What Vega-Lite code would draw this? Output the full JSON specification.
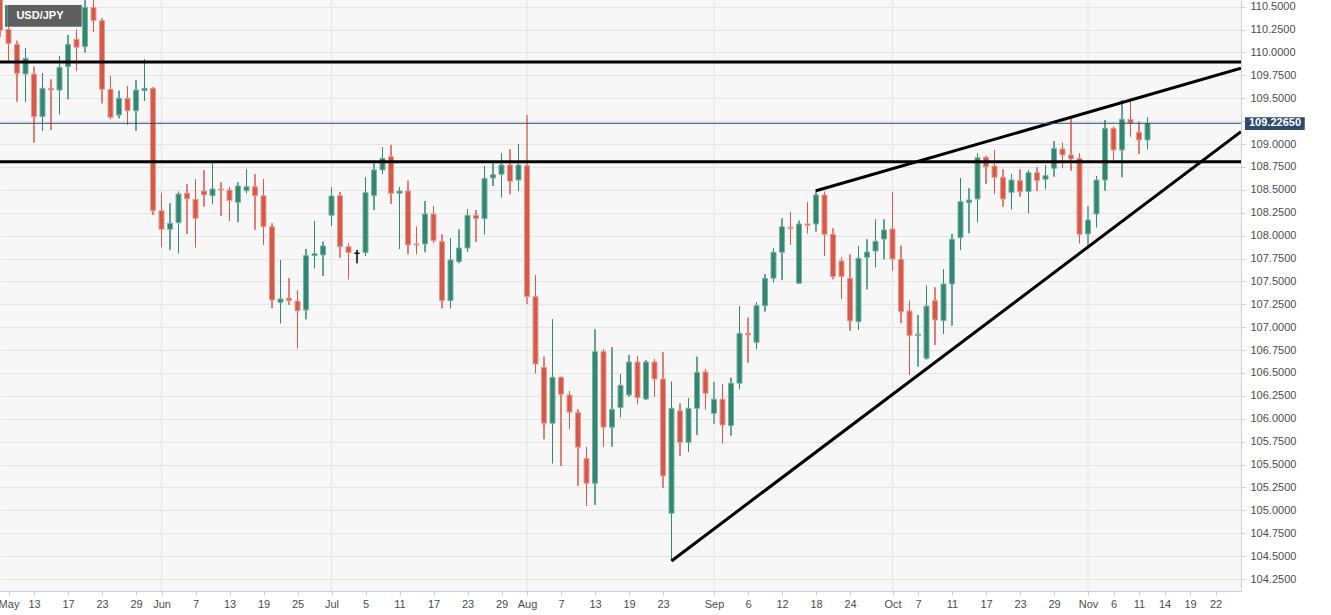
{
  "$schema": "https://vega.github.io/schema/vega-lite/v6.json",
  "width": 1241,
  "height": 591,
  "autosize": {"type": "none"},
  "padding": {"left": 0, "top": 0, "right": 90, "bottom": 24},
  "background": "#ffffff",
  "view": {"fill": "#f7f7f7", "stroke": null},
  "config": {
    "axis": {"labelFont": "Liberation Sans, Arial, sans-serif", "labelFontSize": 11, "labelColor": "#4d4d4d", "domainColor": "#c8cfdb", "tickColor": "#c8cfdb", "tickSize": 4, "title": null, "labelOverlap": false, "labelFlush": false, "labelBound": false, "tickCount": 200}
  },
  "datasets": {
    "candles": [
      {"d":"2019-05-07","i":-4,"o":110.75,"h":110.95,"l":110.17,"c":110.24},
      {"d":"2019-05-08","i":-3,"o":110.253,"h":110.30,"l":109.899,"c":110.100},
      {"d":"2019-05-09","i":-2,"o":110.089,"h":110.128,"l":109.463,"c":109.773},
      {"d":"2019-05-10","i":-1,"o":109.765,"h":110.046,"l":109.463,"c":109.936},
      {"d":"2019-05-13","i":0,"o":109.765,"h":109.845,"l":109.015,"c":109.299},
      {"d":"2019-05-14","i":1,"o":109.299,"h":109.773,"l":109.143,"c":109.609},
      {"d":"2019-05-15","i":2,"o":109.609,"h":109.707,"l":109.153,"c":109.590},
      {"d":"2019-05-16","i":3,"o":109.590,"h":109.962,"l":109.325,"c":109.838},
      {"d":"2019-05-17","i":4,"o":109.845,"h":110.191,"l":109.489,"c":110.089},
      {"d":"2019-05-20","i":5,"o":110.144,"h":110.25,"l":109.798,"c":110.057},
      {"d":"2019-05-21","i":6,"o":110.063,"h":110.62,"l":110.0,"c":110.493},
      {"d":"2019-05-22","i":7,"o":110.493,"h":110.60,"l":110.227,"c":110.347},
      {"d":"2019-05-23","i":8,"o":110.347,"h":110.373,"l":109.445,"c":109.598},
      {"d":"2019-05-24","i":9,"o":109.598,"h":109.743,"l":109.270,"c":109.292},
      {"d":"2019-05-27","i":10,"o":109.317,"h":109.583,"l":109.281,"c":109.500},
      {"d":"2019-05-28","i":11,"o":109.500,"h":109.634,"l":109.208,"c":109.364},
      {"d":"2019-05-29","i":12,"o":109.364,"h":109.699,"l":109.143,"c":109.590},
      {"d":"2019-05-30","i":13,"o":109.583,"h":109.925,"l":109.470,"c":109.609},
      {"d":"2019-05-31","i":14,"o":109.609,"h":109.62,"l":108.225,"c":108.272},
      {"d":"2019-06-03","i":15,"o":108.272,"h":108.469,"l":107.872,"c":108.069},
      {"d":"2019-06-04","i":16,"o":108.069,"h":108.353,"l":107.843,"c":108.135},
      {"d":"2019-06-05","i":17,"o":108.141,"h":108.480,"l":107.807,"c":108.455},
      {"d":"2019-06-06","i":18,"o":108.462,"h":108.564,"l":108.018,"c":108.403},
      {"d":"2019-06-07","i":19,"o":108.397,"h":108.615,"l":107.872,"c":108.189},
      {"d":"2019-06-10","i":20,"o":108.487,"h":108.717,"l":108.316,"c":108.444},
      {"d":"2019-06-11","i":21,"o":108.436,"h":108.796,"l":108.345,"c":108.509},
      {"d":"2019-06-12","i":22,"o":108.509,"h":108.582,"l":108.214,"c":108.498},
      {"d":"2019-06-13","i":23,"o":108.498,"h":108.528,"l":108.160,"c":108.381},
      {"d":"2019-06-14","i":24,"o":108.364,"h":108.582,"l":108.146,"c":108.542},
      {"d":"2019-06-17","i":25,"o":108.490,"h":108.724,"l":108.462,"c":108.534},
      {"d":"2019-06-18","i":26,"o":108.534,"h":108.670,"l":108.061,"c":108.436},
      {"d":"2019-06-19","i":27,"o":108.436,"h":108.615,"l":107.898,"c":108.097},
      {"d":"2019-06-20","i":28,"o":108.097,"h":108.135,"l":107.206,"c":107.297},
      {"d":"2019-06-21","i":29,"o":107.272,"h":107.734,"l":107.043,"c":107.308},
      {"d":"2019-06-24","i":30,"o":107.316,"h":107.534,"l":107.242,"c":107.290},
      {"d":"2019-06-25","i":31,"o":107.286,"h":107.406,"l":106.769,"c":107.180},
      {"d":"2019-06-26","i":32,"o":107.188,"h":107.854,"l":107.086,"c":107.781},
      {"d":"2019-06-27","i":33,"o":107.781,"h":108.160,"l":107.643,"c":107.803},
      {"d":"2019-06-28","i":34,"o":107.789,"h":107.934,"l":107.559,"c":107.887},
      {"d":"2019-07-01","i":35,"o":108.222,"h":108.528,"l":108.105,"c":108.433},
      {"d":"2019-07-02","i":36,"o":108.436,"h":108.476,"l":107.759,"c":107.879},
      {"d":"2019-07-03","i":37,"o":107.879,"h":107.916,"l":107.523,"c":107.814},
      {"d":"2019-07-04","i":38,"o":107.807,"h":107.843,"l":107.698,"c":107.807},
      {"d":"2019-07-05","i":39,"o":107.814,"h":108.637,"l":107.778,"c":108.469},
      {"d":"2019-07-08","i":40,"o":108.436,"h":108.79,"l":108.280,"c":108.717},
      {"d":"2019-07-09","i":41,"o":108.717,"h":108.964,"l":108.673,"c":108.844},
      {"d":"2019-07-10","i":42,"o":108.862,"h":108.990,"l":108.345,"c":108.462},
      {"d":"2019-07-11","i":43,"o":108.462,"h":108.528,"l":107.854,"c":108.487},
      {"d":"2019-07-12","i":44,"o":108.487,"h":108.600,"l":107.796,"c":107.898},
      {"d":"2019-07-15","i":45,"o":107.909,"h":108.097,"l":107.796,"c":107.898},
      {"d":"2019-07-16","i":46,"o":107.909,"h":108.378,"l":107.818,"c":108.236},
      {"d":"2019-07-17","i":47,"o":108.236,"h":108.323,"l":107.923,"c":107.945},
      {"d":"2019-07-18","i":48,"o":107.934,"h":108.014,"l":107.206,"c":107.290},
      {"d":"2019-07-19","i":49,"o":107.290,"h":107.971,"l":107.206,"c":107.734},
      {"d":"2019-07-22","i":50,"o":107.716,"h":108.069,"l":107.698,"c":107.865},
      {"d":"2019-07-23","i":51,"o":107.865,"h":108.288,"l":107.825,"c":108.222},
      {"d":"2019-07-24","i":52,"o":108.222,"h":108.280,"l":107.930,"c":108.185},
      {"d":"2019-07-25","i":53,"o":108.185,"h":108.760,"l":108.014,"c":108.626},
      {"d":"2019-07-26","i":54,"o":108.629,"h":108.790,"l":108.542,"c":108.665},
      {"d":"2019-07-29","i":55,"o":108.670,"h":108.899,"l":108.418,"c":108.771},
      {"d":"2019-07-30","i":56,"o":108.771,"h":108.943,"l":108.451,"c":108.593},
      {"d":"2019-07-31","i":57,"o":108.607,"h":108.997,"l":108.487,"c":108.771},
      {"d":"2019-08-01","i":58,"o":108.764,"h":109.317,"l":107.253,"c":107.333},
      {"d":"2019-08-02","i":59,"o":107.333,"h":107.570,"l":106.496,"c":106.598},
      {"d":"2019-08-05","i":60,"o":106.562,"h":106.678,"l":105.776,"c":105.951},
      {"d":"2019-08-06","i":61,"o":105.951,"h":107.086,"l":105.514,"c":106.453},
      {"d":"2019-08-07","i":62,"o":106.453,"h":106.46,"l":105.484,"c":106.267},
      {"d":"2019-08-08","i":63,"o":106.259,"h":106.303,"l":105.885,"c":106.071},
      {"d":"2019-08-09","i":64,"o":106.067,"h":106.103,"l":105.266,"c":105.689},
      {"d":"2019-08-12","i":65,"o":105.568,"h":105.689,"l":105.048,"c":105.296},
      {"d":"2019-08-13","i":66,"o":105.296,"h":106.977,"l":105.059,"c":106.733},
      {"d":"2019-08-14","i":67,"o":106.733,"h":106.760,"l":105.696,"c":105.908},
      {"d":"2019-08-15","i":68,"o":105.908,"h":106.781,"l":105.696,"c":106.103},
      {"d":"2019-08-16","i":69,"o":106.121,"h":106.489,"l":106.016,"c":106.366},
      {"d":"2019-08-19","i":70,"o":106.260,"h":106.697,"l":106.241,"c":106.620},
      {"d":"2019-08-20","i":71,"o":106.620,"h":106.686,"l":106.158,"c":106.230},
      {"d":"2019-08-21","i":72,"o":106.216,"h":106.642,"l":106.205,"c":106.620},
      {"d":"2019-08-22","i":73,"o":106.620,"h":106.653,"l":106.241,"c":106.434},
      {"d":"2019-08-23","i":74,"o":106.434,"h":106.726,"l":105.247,"c":105.375},
      {"d":"2019-08-26","i":75,"o":104.968,"h":106.405,"l":104.450,"c":106.114},
      {"d":"2019-08-27","i":76,"o":106.088,"h":106.169,"l":105.594,"c":105.743},
      {"d":"2019-08-28","i":77,"o":105.743,"h":106.224,"l":105.640,"c":106.114},
      {"d":"2019-08-29","i":78,"o":106.114,"h":106.678,"l":105.823,"c":106.507},
      {"d":"2019-08-30","i":79,"o":106.511,"h":106.544,"l":106.103,"c":106.278},
      {"d":"2019-09-02","i":80,"o":106.059,"h":106.401,"l":105.943,"c":106.213},
      {"d":"2019-09-03","i":81,"o":106.213,"h":106.380,"l":105.732,"c":105.932},
      {"d":"2019-09-04","i":82,"o":105.925,"h":106.449,"l":105.815,"c":106.388},
      {"d":"2019-09-05","i":83,"o":106.388,"h":107.231,"l":106.322,"c":106.933},
      {"d":"2019-09-06","i":84,"o":106.933,"h":107.104,"l":106.612,"c":106.915},
      {"d":"2019-09-09","i":85,"o":106.835,"h":107.272,"l":106.759,"c":107.235},
      {"d":"2019-09-10","i":86,"o":107.235,"h":107.581,"l":107.169,"c":107.534},
      {"d":"2019-09-11","i":87,"o":107.534,"h":107.862,"l":107.490,"c":107.818},
      {"d":"2019-09-12","i":88,"o":107.818,"h":108.189,"l":107.515,"c":108.097},
      {"d":"2019-09-13","i":89,"o":108.091,"h":108.258,"l":107.898,"c":108.076},
      {"d":"2019-09-16","i":90,"o":107.479,"h":108.163,"l":107.479,"c":108.127},
      {"d":"2019-09-17","i":91,"o":108.127,"h":108.364,"l":108.025,"c":108.113},
      {"d":"2019-09-18","i":92,"o":108.127,"h":108.506,"l":108.043,"c":108.444},
      {"d":"2019-09-19","i":93,"o":108.444,"h":108.480,"l":107.778,"c":108.014},
      {"d":"2019-09-20","i":94,"o":108.014,"h":108.080,"l":107.523,"c":107.552},
      {"d":"2019-09-23","i":95,"o":107.723,"h":107.763,"l":107.308,"c":107.552},
      {"d":"2019-09-24","i":96,"o":107.534,"h":107.796,"l":106.959,"c":107.068},
      {"d":"2019-09-25","i":97,"o":107.060,"h":107.887,"l":106.970,"c":107.752},
      {"d":"2019-09-26","i":98,"o":107.763,"h":107.960,"l":107.414,"c":107.821},
      {"d":"2019-09-27","i":99,"o":107.832,"h":108.178,"l":107.654,"c":107.938},
      {"d":"2019-09-30","i":100,"o":107.963,"h":108.178,"l":107.742,"c":108.062},
      {"d":"2019-10-01","i":101,"o":108.072,"h":108.473,"l":107.617,"c":107.745},
      {"d":"2019-10-02","i":102,"o":107.742,"h":107.890,"l":107.043,"c":107.169},
      {"d":"2019-10-03","i":103,"o":107.177,"h":107.289,"l":106.478,"c":106.907},
      {"d":"2019-10-04","i":104,"o":106.907,"h":107.133,"l":106.569,"c":106.922},
      {"d":"2019-10-07","i":105,"o":106.660,"h":107.453,"l":106.642,"c":107.231},
      {"d":"2019-10-08","i":106,"o":107.289,"h":107.436,"l":106.806,"c":107.079},
      {"d":"2019-10-09","i":107,"o":107.071,"h":107.632,"l":106.926,"c":107.472},
      {"d":"2019-10-10","i":108,"o":107.472,"h":108.018,"l":107.016,"c":107.960},
      {"d":"2019-10-11","i":109,"o":107.977,"h":108.626,"l":107.843,"c":108.371},
      {"d":"2019-10-14","i":110,"o":108.360,"h":108.517,"l":108.025,"c":108.389},
      {"d":"2019-10-15","i":111,"o":108.400,"h":108.899,"l":108.146,"c":108.851},
      {"d":"2019-10-16","i":112,"o":108.855,"h":108.869,"l":108.564,"c":108.753},
      {"d":"2019-10-17","i":113,"o":108.760,"h":108.935,"l":108.455,"c":108.637},
      {"d":"2019-10-18","i":114,"o":108.637,"h":108.724,"l":108.316,"c":108.400},
      {"d":"2019-10-21","i":115,"o":108.473,"h":108.673,"l":108.287,"c":108.607},
      {"d":"2019-10-22","i":116,"o":108.600,"h":108.724,"l":108.425,"c":108.480},
      {"d":"2019-10-23","i":117,"o":108.480,"h":108.717,"l":108.244,"c":108.687},
      {"d":"2019-10-24","i":118,"o":108.687,"h":108.746,"l":108.487,"c":108.600},
      {"d":"2019-10-25","i":119,"o":108.615,"h":108.771,"l":108.506,"c":108.655},
      {"d":"2019-10-28","i":120,"o":108.735,"h":109.033,"l":108.643,"c":108.953},
      {"d":"2019-10-29","i":121,"o":108.946,"h":109.015,"l":108.742,"c":108.880},
      {"d":"2019-10-30","i":122,"o":108.880,"h":109.281,"l":108.709,"c":108.837},
      {"d":"2019-10-31","i":123,"o":108.844,"h":108.899,"l":107.916,"c":108.014},
      {"d":"2019-11-01","i":124,"o":108.018,"h":108.323,"l":107.862,"c":108.171},
      {"d":"2019-11-04","i":125,"o":108.236,"h":108.651,"l":108.091,"c":108.607},
      {"d":"2019-11-05","i":126,"o":108.607,"h":109.263,"l":108.491,"c":109.172},
      {"d":"2019-11-06","i":127,"o":109.172,"h":109.190,"l":108.807,"c":108.935},
      {"d":"2019-11-07","i":128,"o":108.935,"h":109.48,"l":108.637,"c":109.270},
      {"d":"2019-11-08","i":129,"o":109.270,"h":109.50,"l":109.081,"c":109.227},
      {"d":"2019-11-11","i":130,"o":109.128,"h":109.244,"l":108.891,"c":109.044},
      {"d":"2019-11-12","i":131,"o":109.044,"h":109.292,"l":108.943,"c":109.2265}
    ],
    "months": [{"i":15},{"i":35},{"i":58},{"i":80},{"i":101},{"i":124}],
    "lines": [
      {"line":"resistance","i":-4,"p":109.895},{"line":"resistance","i":142,"p":109.895},
      {"line":"support","i":-4,"p":108.807},{"line":"support","i":142,"p":108.807},
      {"line":"wedge top","i":92,"p":108.49},{"line":"wedge top","i":142,"p":109.827},
      {"line":"wedge bottom","i":75,"p":104.447},{"line":"wedge bottom","i":142,"p":109.135}
    ],
    "one": [{"last": 109.2265}]
  },
  "layer": [
    {
      "data": {"name": "candles"},
      "mark": {"type": "rule", "strokeWidth": 1},
      "encoding": {
        "x": {"field": "i", "type": "quantitative", "title": null,
          "scale": {"domain": [-4, 142], "nice": false, "zero": false, "padding": 0},
          "axis": {
            "values": [-3,0,4,8,12,15,19,23,27,31,35,39,43,47,51,55,58,62,66,70,74,80,84,88,92,96,101,104,108,112,116,120,124,127,130,133,136,139],
            "labelExpr": "['May','13','17','23','29','Jun','7','13','19','25','Jul','5','11','17','23','29','Aug','7','13','19','23','Sep','6','12','18','24','Oct','7','11','17','23','29','Nov','6','11','14','19','22'][indexof([-3,0,4,8,12,15,19,23,27,31,35,39,43,47,51,55,58,62,66,70,74,80,84,88,92,96,101,104,108,112,116,120,124,127,130,133,136,139], datum.value)]",
            "grid": false, "labelOverlap": false, "labelFlush": false, "labelPadding": 3, "orient": "bottom", "tickCount": 200
          }
        },
        "y": {"field": "l", "type": "quantitative", "title": null,
          "scale": {"domain": [104.119, 110.573], "nice": false, "zero": false, "padding": 0},
          "axis": {
            "orient": "right",
            "values": [104.25,104.5,104.75,105,105.25,105.5,105.75,106,106.25,106.5,106.75,107,107.25,107.5,107.75,108,108.25,108.5,108.75,109,109.25,109.5,109.75,110,110.25,110.5],
            "labelExpr": "abs(datum.value - 109.25) < 0.001 ? '' : format(datum.value, '.4f')",
            "grid": true, "gridColor": "#e4e4e4", "labelPadding": 5, "labelOverlap": false, "tickCount": 200
          }
        },
        "y2": {"field": "h"},
        "color": {"condition": [{"test": "datum.c == datum.o", "value": "#000000"}, {"test": "datum.c > datum.o", "value": "#338670"}], "value": "#d7594a"}
      }
    },
    {
      "data": {"name": "months"},
      "mark": {"type": "rule", "color": "#e3e3e3", "strokeWidth": 1},
      "encoding": {
        "x": {"field": "i", "type": "quantitative", "title": null}
      }
    },
    {
      "data": {"name": "candles"},
      "mark": {"type": "rule", "strokeWidth": 1},
      "encoding": {
        "x": {"field": "i", "type": "quantitative", "title": null},
        "y": {"field": "l", "type": "quantitative", "title": null},
        "y2": {"field": "h"},
        "color": {"condition": [{"test": "datum.c == datum.o", "value": "#000000"}, {"test": "datum.c > datum.o", "value": "#338670"}], "value": "#d7594a"}
      }
    },
    {
      "data": {"name": "candles"},
      "mark": {"type": "bar", "width": 5, "strokeWidth": 1},
      "encoding": {
        "x": {"field": "i", "type": "quantitative", "title": null},
        "y": {"field": "o", "type": "quantitative", "title": null},
        "y2": {"field": "c"},
        "fill": {"condition": [{"test": "datum.c == datum.o", "value": "#000000"}, {"test": "datum.c > datum.o", "value": "#338670"}], "value": "#d7594a"},
        "stroke": {"condition": [{"test": "datum.c == datum.o", "value": "#000000"}, {"test": "datum.c > datum.o", "value": "#79b3a2"}], "value": "#eb9a8f"}
      }
    },
    {
      "data": {"name": "lines"},
      "mark": {"type": "line", "color": "#000000", "strokeWidth": 3, "clip": true},
      "encoding": {
        "x": {"field": "i", "type": "quantitative", "title": null},
        "y": {"field": "p", "type": "quantitative", "title": null},
        "detail": {"field": "line"}
      }
    },
    {
      "data": {"name": "one"},
      "mark": {"type": "rule", "color": "#2c4a70", "strokeWidth": 1},
      "encoding": {"y": {"field": "last", "type": "quantitative", "title": null}}
    },
    {
      "data": {"name": "one"},
      "mark": {"type": "rect", "color": "#2e4a6d"},
      "encoding": {
        "x": {"datum": 142.47, "type": "quantitative", "title": null},
        "x2": {"datum": 149.5},
        "y": {"datum": 109.292, "type": "quantitative", "title": null},
        "y2": {"datum": 109.152}
      }
    },
    {
      "data": {"name": "one"},
      "mark": {"type": "text", "color": "#ffffff", "font": "Liberation Sans, Arial, sans-serif", "fontSize": 11, "fontWeight": "bold", "align": "center", "baseline": "middle"},
      "encoding": {
        "x": {"datum": 146.0, "type": "quantitative", "title": null},
        "y": {"field": "last", "type": "quantitative", "title": null},
        "text": {"field": "last", "type": "quantitative", "format": ".5f"}
      }
    },
    {
      "data": {"name": "one"},
      "mark": {"type": "rect", "color": "#338670"},
      "encoding": {
        "x": {"datum": -3.41, "type": "quantitative", "title": null},
        "x2": {"datum": -3.14},
        "y": {"datum": 110.518, "type": "quantitative", "title": null},
        "y2": {"datum": 110.281}
      }
    },
    {
      "data": {"name": "one"},
      "mark": {"type": "rect", "color": "#5f5f5f"},
      "encoding": {
        "x": {"datum": -3.14, "type": "quantitative", "title": null},
        "x2": {"datum": 5.61},
        "y": {"datum": 110.518, "type": "quantitative", "title": null},
        "y2": {"datum": 110.281}
      }
    },
    {
      "data": {"name": "one"},
      "mark": {"type": "text", "color": "#ffffff", "font": "Liberation Sans, Arial, sans-serif", "fontSize": 11, "fontWeight": "bold", "align": "center", "baseline": "middle"},
      "encoding": {
        "x": {"datum": 0.7, "type": "quantitative", "title": null},
        "y": {"datum": 110.40, "type": "quantitative", "title": null},
        "text": {"value": "USD/JPY"}
      }
    }
  ]
}
